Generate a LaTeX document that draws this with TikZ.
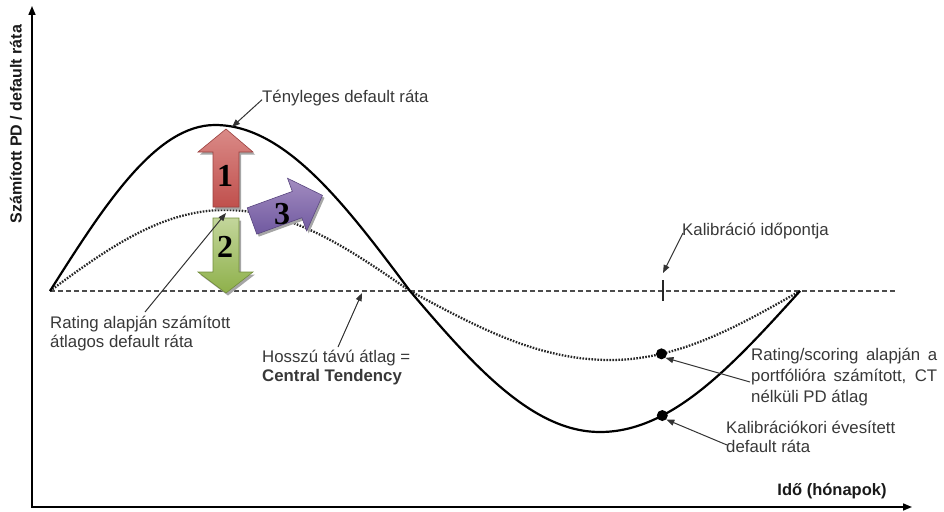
\documentclass[tikz,border=0pt]{standalone}
\usepackage{fontspec}
\setmainfont{Liberation Sans}
\newfontfamily\numfont{Liberation Serif}
\usetikzlibrary{arrows.meta}

\definecolor{arrRedTop}{HTML}{DA8A87}
\definecolor{arrRed}{HTML}{C0504D}
\definecolor{arrGreenTop}{HTML}{C3D69B}
\definecolor{arrGreen}{HTML}{8EB04A}
\definecolor{arrPurpleTop}{HTML}{A28CC0}
\definecolor{arrPurple}{HTML}{7059A0}

\tikzset{
  axisline/.style={line width=1.6pt, {Triangle[length=9pt,width=7pt]}-{Triangle[length=9pt,width=7pt]}},
  actual/.style={line width=2.2pt, black},
  rated/.style={line width=2.3pt, black!85, dash pattern=on 1.6pt off 1.4pt},
  longavg/.style={line width=1.1pt, black!70, dash pattern=on 5pt off 3pt},
  note/.style={draw=black!80, line width=1pt, -{Triangle[length=8pt,width=6pt]}},
  lbl/.style={font=\fontsize{16.8}{19}\selectfont, text=black!78, inner sep=0pt, anchor=north west, align=left},
  axlbl/.style={font=\fontsize{16.5}{19}\selectfont\bfseries, text=black!90, inner sep=0pt},
  fat/.style={draw=#1!80!black, line width=0.6pt,
    preaction={fill=black!35, transform canvas={shift={(2pt,-2.5pt)}}}},
  num/.style={font=\numfont\bfseries\fontsize{32}{32}\selectfont, inner sep=0pt},
  dot/.style={circle, fill=black, inner sep=0pt, minimum size=11pt}
}

\begin{document}
\begin{tikzpicture}[x=1pt,y=-1pt]
\useasboundingbox (0,0) rectangle (944,511);

% axes
\coordinate (O) at (32,507);
\coordinate (ytip) at (32,6);
\coordinate (xtip) at (912,507);
\draw[axisline] (ytip) |- (xtip);
\node[axlbl, rotate=90, font=\fontsize{16}{19}\selectfont\bfseries] (ylab) at (16,124) {Számított PD / default ráta};
\node[axlbl] (xlab) at (832,491) {Idő (hónapok)};

% long-run average (central tendency)
\coordinate (ctL) at (50,291);
\coordinate (ctR) at (895,291);
\draw[longavg] (ctL) -- (ctR);

% calibration time tick
\draw[line width=1.1pt, black!85] (663,280) coordinate (tickT) -- (663,301);

% rating-based average default rate (dotted)
\draw[rated] (50,291)
  .. controls (108,248) and (162,210) .. (225,210) coordinate (rpeak)
  .. controls (292,210) and (348,248) .. (410,291)
  .. controls (477,327) and (538,360) .. (610,360)
  .. controls (678,360) and (737,327) .. (800,291) coordinate[pos=0.26] (rdot);

% actual default rate (solid)
\draw[actual] (50,291)
  .. controls (105,204) and (156,125) .. (215,125)
  .. controls (285,125) and (345,204) .. (410,291)
  .. controls (473,365) and (532,432) .. (600,432)
  .. controls (672,432) and (733,365) .. (800,291) coordinate[pos=0.3] (adot);

\node[dot] (rd) at (rdot) {};
\node[dot] (ad) at (adot) {};

% fat arrows
\path[fat=arrRed, top color=arrRedTop, bottom color=arrRed]
  (213,207) -- (213,152) -- (198,152) -- (226,129) -- (253,152) -- (239,152) -- (239,207) -- cycle;
\path[fat=arrGreen, top color=arrGreenTop, bottom color=arrGreen]
  (213,218) -- (239,218) -- (239,272) -- (253,272) -- (226,293) -- (198,272) -- (213,272) -- cycle;
\begin{scope}[shift={(252,221)}, rotate=20]
  \path[fat=arrPurple, top color=arrPurpleTop, bottom color=arrPurple]
    (0,-14) -- (48,-14) -- (48,-28) -- (75,0) -- (48,28) -- (48,14) -- (0,14) -- cycle;
\end{scope}
\node[num] (n1) at (225,176) {1};
\node[num] (n2) at (225,247) {2};
\node[num] (n3) at (282,214) {3};

% annotations
\node[lbl] (tdr) at (262,89) {\strut Tényleges default ráta};
\coordinate (tdrTip) at (232,127);
\draw[note] (tdr.west) ++(0,1) coordinate (tdrFrom) (tdrFrom) -- (tdrTip);

\node[lbl] (kal) at (682,222) {\strut Kalibráció időpontja};
\coordinate (kalFrom) at (683,233);
\coordinate (kalTip) at (663,273);
\draw[note] (kalFrom) -- (kalTip);

\node[lbl] (rat) at (50,315) {\strut Rating alapján számított\\\strut átlagos default ráta};
\coordinate (ratFrom) at (145,312);
\coordinate (ratTip) at (226,213);
\draw[note] (ratFrom) -- (ratTip);

\node[lbl] (hta) at (262,349) {\strut Hosszú távú átlag =\\\strut\textbf{Central Tendency}};
\coordinate (htaFrom) at (338,347);
\coordinate (htaTip) at (362,293);
\draw[note] (htaFrom) -- (htaTip);

\node[lbl, font=\fontsize{16.8}{21}\selectfont] (rs) at (751,346)
  {\makebox[186pt][s]{\strut Rating/scoring alapján a}\\
   \makebox[186pt][s]{\strut portfólióra számított, CT}\\
   \strut nélküli PD átlag};
\coordinate (rsFrom) at (750,382);
\draw[note] (rsFrom) -- (rd.south east);

\node[lbl] (kev) at (726,420) {\strut Kalibrációkori évesített\\\strut default ráta};
\coordinate (kevFrom) at (727,445);
\draw[note] (kevFrom) -- (ad.south east);
\end{tikzpicture}
\end{document}
